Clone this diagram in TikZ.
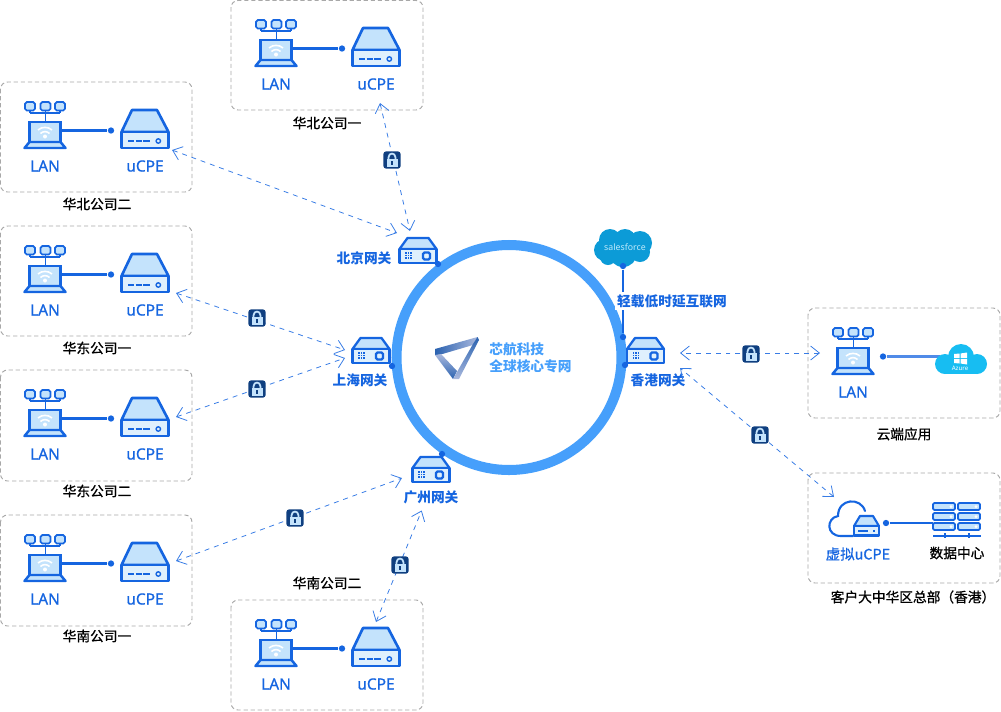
\documentclass[tikz,border=0pt]{standalone}
\usepackage{fontspec}
\usepackage{xcolor}
\setmainfont{Noto Sans}
\newfontfamily\latm[FakeBold=0.9]{Noto Sans}
\newfontfamily\cjk{Noto Sans CJK SC}
\newfontfamily\cjkm[FakeBold=0.9]{Noto Sans CJK SC}
\usetikzlibrary{arrows.meta}
\definecolor{iconblue}{HTML}{1565E0}
\definecolor{iconlight}{HTML}{C4E3FC}
\definecolor{ringblue}{HTML}{469FFB}
\definecolor{lockblue}{HTML}{0F3F80}
\definecolor{boxgray}{HTML}{A8A8A8}
\definecolor{sfblue}{HTML}{0C9BD7}
\definecolor{azureblue}{HTML}{17BDF2}
\definecolor{logodark}{HTML}{2A62B0}
\definecolor{logolight}{HTML}{A9B8DD}
\tikzset{
  company/.style={draw=boxgray,dash pattern=on 2.4pt off 1.6pt,line width=0.55pt,rounded corners=4pt},
  caption/.style={font=\cjkm\fontsize{7.8}{9}\selectfont,text=black,inner sep=0pt},
  iconlabel/.style={font=\latm\fontsize{8.8}{10}\selectfont,text=iconblue,inner sep=0pt},
  gatelabel/.style={font=\cjk\bfseries\fontsize{7.8}{9}\selectfont,text=iconblue,inner sep=0pt},
  link/.style={draw=iconblue,line width=1.2pt},
  vpn/.style={draw=iconblue!85,dash pattern=on 2.8pt off 2.8pt,line width=0.45pt,{Straight Barb[length=5pt,width=8pt]}-{Straight Barb[length=5pt,width=8pt]}},
  dot/.style={circle,fill=iconblue,inner sep=0pt,minimum size=3.6pt},
  lockbox/.style={fill=lockblue,rounded corners=1.5pt,inner sep=0pt,minimum size=9.8pt},
  pics/lan/.style={code={
    \foreach \mx in {-15,0.5,15} {
      \draw[iconblue,line width=1pt,fill=iconlight,rounded corners=1pt] (\mx-5,-30) rectangle (\mx+5,-21.5);
      \draw[iconblue,line width=1pt] (\mx,-21.5) -- (\mx,-19);
    }
    \draw[iconblue,line width=1pt] (-15,-19) -- (15,-19) (0.5,-19) -- (0.5,-10);
    \draw[iconblue,line width=1.4pt,fill=iconlight] (-15.5,-10) rectangle (15.5,10);
    \draw[iconblue,line width=1.4pt,fill=iconlight,line join=round] (-15.5,10) -- (15.5,10) -- (20.5,16) -- (-20.5,16) -- cycle;
    \draw[white,line width=0.9pt] (-7,-2) .. controls (-3,-5.5) and (3,-5.5) .. (7,-2);
    \draw[white,line width=0.9pt] (-4.5,1.5) .. controls (-2,-1) and (2,-1) .. (4.5,1.5);
    \fill[white] (0,4.5) circle (2);
  }},
  pics/ucpe/.style={code={
    \draw[iconblue,line width=1.5pt,fill=iconlight,line join=round] (-23.5,0) -- (-13,-22) -- (12,-22) -- (23.5,0) -- cycle;
    \draw[iconblue,line width=1.5pt,fill=iconlight!55,line join=round] (-23.5,0) rectangle (23.5,16);
    \draw[iconblue,line width=1.2pt] (-17,9) -- (-11,9) (-9.5,9) -- (-3.5,9) (-2,9) -- (5,9);
    \draw[iconblue,line width=0.8pt] (13.3,9) circle (2.2);
  }},
  pics/gateway/.style={code={
    \draw[iconblue,line width=1.3pt,fill=iconlight,line join=round] (-18.5,0) -- (-10.5,-11) -- (10.5,-11) -- (18.5,0) -- cycle;
    \draw[iconblue,line width=1.3pt,fill=iconlight!55,line join=round] (-18.5,0) rectangle (18.5,14);
    \foreach \gx in {-12,-9.5,-7} {
      \foreach \gy in {4,6.5,9} {
        \fill[iconblue] (\gx-0.9,\gy-0.9) rectangle (\gx+0.9,\gy+0.9);
      }
    }
    \draw[iconblue,line width=1.3pt,rounded corners=0.8pt] (5,3.5) rectangle (12,10.5);
  }},
  pics/padlock/.style={code={
    \draw[iconlight,line width=1pt] (-3.4,0) -- (-3.4,-2.8) .. controls (-3.4,-7.6) and (3.4,-7.6) .. (3.4,-2.8) -- (3.4,0);
    \fill[iconlight] (-5.5,-1.5) rectangle (5.5,6.5);
    \fill[lockblue] (-0.8,1) rectangle (0.8,4.6);
  }}
}
\begin{document}
\begin{tikzpicture}[x=0.02cm,y=-0.02cm]
\useasboundingbox (0,0) rectangle (1001,711);
% company boxes
\draw[company] (231,0.5) rectangle (423,110);
\draw[company] (0.5,82) rectangle (192,192);
\draw[company] (0.5,226) rectangle (192,336);
\draw[company] (0.5,370) rectangle (192,481);
\draw[company] (0.5,515) rectangle (192,626);
\draw[company] (231,600) rectangle (423,710);
\draw[company] (808,308) rectangle (1000,418);
\draw[company] (808,473) rectangle (1000,583);
% backbone
\draw[ringblue,line width=5.7pt] (509,357.5) circle (112.5);
% top box
\pic at (276,50) {lan};
\pic at (376,50) {ucpe};
\node[iconlabel] (lanA) at (276,84) {LAN};
\node[iconlabel] (ucpeA) at (376,84) {uCPE};
\node[dot] (dotA) at (342,48.5) {};
\coordinate (screenA) at (291,48.5);
\draw[link] (screenA) -- (dotA);
\node[caption] (capA) at (327,123) {华北公司一};
% left boxes
\pic at (45,132) {lan};
\pic at (145,132) {ucpe};
\node[iconlabel] (lanB) at (45,166) {LAN};
\node[iconlabel] (ucpeB) at (145,166) {uCPE};
\node[dot] (dotB) at (111,130.5) {};
\coordinate (screenB) at (60,130.5);
\draw[link] (screenB) -- (dotB);
\node[caption] (capB) at (97,204) {华北公司二};
\pic at (45,276) {lan};
\pic at (145,276) {ucpe};
\node[iconlabel] (lanC) at (45,310) {LAN};
\node[iconlabel] (ucpeC) at (145,310) {uCPE};
\node[dot] (dotC) at (111,274.5) {};
\coordinate (screenC) at (60,274.5);
\draw[link] (screenC) -- (dotC);
\node[caption] (capC) at (97,348) {华东公司一};
\pic at (45,420) {lan};
\pic at (145,420) {ucpe};
\node[iconlabel] (lanD) at (45,454) {LAN};
\node[iconlabel] (ucpeD) at (145,454) {uCPE};
\node[dot] (dotD) at (111,418.5) {};
\coordinate (screenD) at (60,418.5);
\draw[link] (screenD) -- (dotD);
\node[caption] (capD) at (97,491) {华东公司二};
\pic at (45,565) {lan};
\pic at (145,565) {ucpe};
\node[iconlabel] (lanE) at (45,599) {LAN};
\node[iconlabel] (ucpeE) at (145,599) {uCPE};
\node[dot] (dotE) at (111,563.5) {};
\coordinate (screenE) at (60,563.5);
\draw[link] (screenE) -- (dotE);
\node[caption] (capE) at (97,636) {华南公司一};
% bottom box
\pic at (276,650) {lan};
\pic at (376,650) {ucpe};
\node[iconlabel] (lanF) at (276,684) {LAN};
\node[iconlabel] (ucpeF) at (376,684) {uCPE};
\node[dot] (dotF) at (342,648.5) {};
\coordinate (screenF) at (291,648.5);
\draw[link] (screenF) -- (dotF);
\node[caption] (capF) at (327,583) {华南公司二};
% gateways
\pic at (418,249) {gateway};
\pic at (371,349) {gateway};
\pic at (645.5,349) {gateway};
\pic at (431,468) {gateway};
\node[gatelabel] (labBJ) at (364,258) {北京网关};
\node[gatelabel] (labSH) at (360,380) {上海网关};
\node[gatelabel] (labHK) at (658,380) {香港网关};
\node[gatelabel] (labGZ) at (431,497) {广州网关};
\node[dot] (dotBJ) at (438,264) {};
\node[dot] (dotSH) at (392,366) {};
\node[dot] (dotHK) at (625,365) {};
\node[dot] (dotGZ) at (442,454) {};
% salesforce
\foreach \cx/\cy/\cr in {605/250/11,610/240/11,625/240/11,640/243/12,623/253/14,608/257/8,640/252/10} {
  \fill[sfblue] (\cx,\cy) circle (\cr);
}
\node[font=\fontsize{5}{6}\selectfont,text=white!75!cyan,inner sep=0pt] (sfName) at (625,247) {salesforce};
\node[dot] (dotSF) at (623,266) {};
\node[dot] (dotTail) at (623,337) {};
\draw[link] (dotSF) -- (dotTail);
\node[gatelabel,fill=white,inner xsep=1pt,inner ysep=1.5pt] (labTail) at (672,301) {轻载低时延互联网};
% logo
\shade[left color=logodark,right color=logolight] (435,349) -- (477.5,337) -- (473,345) -- (439,355) -- (435,355) -- cycle;
\shade[top color=logolight,bottom color=logodark] (435,355) -- (441,354) -- (457,371) -- (453,379) -- cycle;
\shade[top color=logodark,bottom color=logolight] (479,340) -- (459,379) -- (453,379) -- (473,344) -- (477.5,337) -- cycle;
\node[gatelabel,text=ringblue,anchor=west] (logoA) at (489,349) {芯航科技};
\node[gatelabel,text=ringblue,anchor=west] (logoB) at (489,366) {全球核心专网};
% right side
\pic at (853,358) {lan};
\node[iconlabel] (lanG) at (853,392) {LAN};
\node[dot] (dotG) at (883,356.5) {};
\coordinate (cloudG) at (940,356.5);
\draw[link,draw=iconblue!75] (dotG) -- (cloudG);
\foreach \cx/\cy/\cr in {945/364/10,961/357/13,977/364/10} {
  \fill[azureblue] (\cx,\cy) circle (\cr);
}
\fill[azureblue] (945,360) rectangle (977,374);
\node[font=\fontsize{3.5}{4}\selectfont,text=white,inner sep=0pt] (azureName) at (960,368.5) {Azure};
\fill[white] (954,354) -- (959.5,353.5) -- (959.5,358) -- (954,358) -- cycle (960.5,353.5) -- (967,352.5) -- (967,358) -- (960.5,358) -- cycle (954,359) -- (959.5,359) -- (959.5,363.5) -- (954,363) -- cycle (960.5,359) -- (967,359) -- (967,364.5) -- (960.5,363.5) -- cycle;
\node[caption] (capG) at (904,434) {云端应用};
\draw[iconblue,line width=1.2pt,line cap=round] (853,536) -- (841,536) .. controls (826,536) and (826,518) .. (838,516) .. controls (838,498) and (861,497) .. (865,511);
\draw[iconblue,line width=1.2pt,fill=iconlight,line join=round] (854,526) -- (860,516) -- (873,516) -- (879,526) -- cycle;
\draw[iconblue,line width=1.2pt,fill=iconlight!55,line join=round] (854,526) rectangle (879,535.5);
\draw[iconblue,line width=0.7pt] (858,531) -- (868,531) (873,531) -- (875,531);
\node[iconlabel,font=\cjkm\fontsize{8.2}{10}\selectfont] (labVirtual) at (858,554) {虚拟uCPE};
\node[dot] (dotH) at (886,523) {};
\coordinate (rackH) at (933,523);
\draw[link] (dotH) -- (rackH);
\foreach \ry in {503,513,523} {
  \foreach \rx in {933,958} {
    \draw[iconblue,line width=1pt,fill=iconlight,rounded corners=0.8pt] (\rx,\ry) rectangle (\rx+22,\ry+7);
    \fill[white] (\rx+18,\ry+3.5) circle (1.5);
  }
}
\draw[iconblue,line width=1.2pt] (933,536) -- (981,536) (945,533) -- (945,538) (969,533) -- (969,538);
\node[caption] (labData) at (957,553) {数据中心};
\node[caption] (capH) at (913,597) {客户大中华区总部（香港）};
% vpn tunnels
\coordinate (endA) at (380,103);
\coordinate (gwA) at (410,231);
\coordinate (endB) at (172,150);
\coordinate (gwB) at (397,233);
\coordinate (endC) at (176,293);
\coordinate (gwC) at (345,350);
\coordinate (endD) at (176,417);
\coordinate (gwD) at (345,358);
\coordinate (endE) at (176,561);
\coordinate (gwE) at (402,478);
\coordinate (endF) at (376,622);
\coordinate (gwF) at (421.7,510.5);
\coordinate (endG) at (820,353);
\coordinate (gwG) at (680,353);
\coordinate (endH) at (834,497);
\coordinate (gwH) at (680,368);
\draw[vpn] (endA) -- (gwA);
\draw[vpn] (endB) -- (gwB);
\draw[vpn] (endC) -- (gwC);
\draw[vpn] (endD) -- (gwD);
\draw[vpn] (endE) -- (gwE);
\draw[vpn] (endF) -- (gwF);
\draw[vpn] (endG) -- (gwG);
\draw[vpn] (endH) -- (gwH);
% locks
\node[lockbox] (lockA) at (392,160) {};
\pic at (lockA) {padlock};
\node[lockbox] (lockC) at (257,318) {};
\pic at (lockC) {padlock};
\node[lockbox] (lockD) at (257,389) {};
\pic at (lockD) {padlock};
\node[lockbox] (lockE) at (295,518) {};
\pic at (lockE) {padlock};
\node[lockbox] (lockF) at (400,565) {};
\pic at (lockF) {padlock};
\node[lockbox] (lockG) at (751,354) {};
\pic at (lockG) {padlock};
\node[lockbox] (lockH) at (760,435) {};
\pic at (lockH) {padlock};
\end{tikzpicture}
\end{document}
